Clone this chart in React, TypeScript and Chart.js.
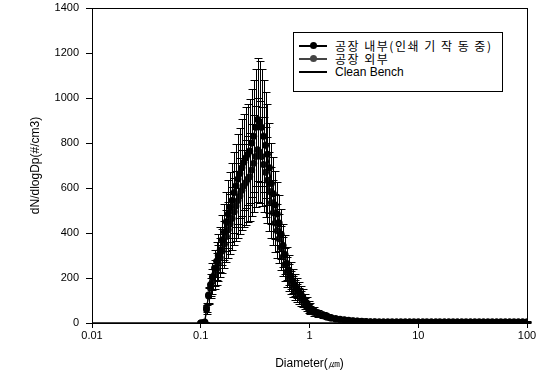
import React, { useEffect, useRef } from "react";
import { Chart, registerables } from "chart.js";

Chart.register(...registerables);

const seriesNames = ["공장 내부(인쇄 기 작 동 중)", "공장 외부", "Clean Bench"];

const diameters = [
  0.100, 0.104, 0.109, 0.113, 0.118, 0.123, 0.128, 0.134, 0.140, 0.145,
  0.151, 0.158, 0.165, 0.172, 0.179, 0.186, 0.194, 0.203, 0.211, 0.220,
  0.229, 0.239, 0.249, 0.260, 0.271, 0.282, 0.294, 0.307, 0.320, 0.333,
  0.347, 0.362, 0.378, 0.394, 0.410, 0.428, 0.446, 0.465, 0.484, 0.505,
  0.526, 0.549, 0.572, 0.596, 0.621, 0.648, 0.675, 0.704, 0.733, 0.764,
  0.797, 0.831, 0.866, 0.902, 0.940, 0.980,
  1.00, 1.10, 1.20, 1.32, 1.45, 1.58, 1.74, 1.91, 2.09, 2.29,
  2.51, 2.75, 3.02, 3.31, 3.63, 3.98, 4.37, 4.79, 5.25, 5.75,
  6.31, 6.92, 7.59, 8.32, 9.12, 10.0, 11.0, 12.0, 13.2, 14.5,
  15.8, 17.4, 19.1, 20.9, 22.9, 25.1, 27.5, 30.2, 33.1, 36.3,
  39.8, 43.7, 47.9, 52.5, 57.5, 63.1, 69.2, 75.9, 83.2, 91.2,
  100,
];

const insideValues = [
  0, 0, 2, 60, 125, 170, 205, 245, 275, 300,
  325, 370, 405, 450, 485, 515, 545, 580, 610, 640,
  665, 690, 715, 735, 750, 765, 800, 830, 870, 905,
  895, 870, 830, 790, 750, 690, 620, 575, 525, 485,
  445, 395, 345, 305, 265, 235, 210, 188, 170, 155,
  142, 130, 117, 102, 90, 78,
  70, 56, 46, 38, 31, 25, 20, 17, 14, 12,
  10, 9, 8, 7, 6, 6, 5, 5, 5, 5,
  5, 5, 5, 5, 5, 5, 5, 5, 5, 5,
  5, 5, 5, 5, 5, 5, 5, 5, 5, 5,
  5, 5, 5, 5, 5, 5, 5, 5, 5, 5,
  5,
];

const insideErrors = [
  0, 0, 1, 20, 35, 50, 60, 80, 85, 95,
  100, 110, 125, 130, 150, 155, 165, 180, 185, 200,
  200, 215, 215, 225, 225, 230, 240, 250, 260, 272,
  270, 260, 250, 235, 225, 200, 180, 165, 150, 140,
  125, 110, 95, 85, 75, 66, 60, 54, 48, 44,
  40, 36, 32, 28, 25, 22,
  20, 16, 13, 11, 9, 8, 6, 5, 4, 4,
  3, 3, 3, 2, 2, 2, 2, 2, 2, 2,
  2, 2, 2, 2, 2, 2, 2, 2, 2, 2,
  2, 2, 2, 2, 2, 2, 2, 2, 2, 2,
  2, 2, 2, 2, 2, 2, 2, 2, 2, 2,
  2,
];

const outsideValues = [
  0, 0, 4, 70, 120, 155, 185, 215, 240, 265,
  290, 320, 350, 385, 415, 440, 465, 495, 520, 545,
  565, 590, 610, 625, 640, 650, 680, 710, 740, 770,
  760, 740, 705, 670, 635, 585, 535, 490, 445, 410,
  375, 335, 295, 260, 228, 202, 180, 162, 146, 133,
  121, 110, 99, 87, 76, 66,
  58, 47, 38, 32, 26, 21, 17, 14, 12, 10,
  9, 8, 7, 6, 5, 5, 4, 4, 4, 4,
  4, 4, 4, 4, 4, 4, 4, 4, 4, 4,
  4, 4, 4, 4, 4, 4, 4, 4, 4, 4,
  4, 4, 4, 4, 4, 4, 4, 4, 4, 4,
  4,
];

const outsideErrors = [
  0, 0, 2, 20, 35, 45, 55, 65, 70, 80,
  87, 96, 105, 115, 125, 132, 140, 150, 156, 165,
  170, 178, 185, 190, 192, 196, 205, 215, 225, 232,
  228, 222, 212, 200, 190, 175, 158, 145, 130, 120,
  110, 98, 86, 75, 66, 59, 53, 48, 43, 39,
  36, 33, 30, 26, 23, 20,
  17, 14, 11, 9, 8, 6, 5, 4, 4, 3,
  3, 2, 2, 2, 2, 2, 2, 2, 2, 2,
  2, 2, 2, 2, 2, 2, 2, 2, 2, 2,
  2, 2, 2, 2, 2, 2, 2, 2, 2, 2,
  2, 2, 2, 2, 2, 2, 2, 2, 2, 2,
  2,
];

const cleanDiameters = [0.01, 0.03, 0.1, 0.3, 1, 3, 10, 30, 100];
const cleanValues = [0, 0, 0, 0, 0, 0, 0, 0, 0];

const xTicks = [0.01, 0.1, 1, 10, 100];
const yTicks = [0, 200, 400, 600, 800, 1000, 1200, 1400];

const errorBarPlugin = {
  id: "errorBars",
  afterDatasetsDraw(chart: any) {
    const ctx = chart.ctx;
    const xs = chart.scales.x;
    const ys = chart.scales.y;
    ctx.save();
    chart.data.datasets.forEach((ds: any) => {
      if (!ds.errors) return;
      ctx.strokeStyle = "#000";
      ctx.lineWidth = 1;
      ds.data.forEach((p: any, i: number) => {
        const e = ds.errors[i];
        if (!e) return;
        const x = Math.round(xs.getPixelForValue(p.x)) + 0.5;
        const y1 = Math.round(ys.getPixelForValue(p.y + e)) + 0.5;
        const y2 = Math.round(ys.getPixelForValue(Math.max(0, p.y - e))) + 0.5;
        ctx.beginPath();
        ctx.moveTo(x, y1);
        ctx.lineTo(x, y2);
        ctx.moveTo(x - 4, y1);
        ctx.lineTo(x + 4, y1);
        ctx.moveTo(x - 4, y2);
        ctx.lineTo(x + 4, y2);
        ctx.stroke();
      });
    });
    ctx.restore();
  },
};

const framePlugin = {
  id: "frame",
  afterDraw(chart: any) {
    const { left, right, top, bottom } = chart.chartArea;
    const ctx = chart.ctx;
    ctx.save();
    ctx.strokeStyle = "#000";
    ctx.lineWidth = 1;
    ctx.strokeRect(Math.round(left) + 0.5, Math.round(top) + 0.5, Math.round(right - left), Math.round(bottom - top));
    ctx.restore();
  },
};

function pts(xsArr: number[], ysArr: number[]) {
  return xsArr.map((x, i) => ({ x, y: ysArr[i] }));
}

export default function App() {
  const ref = useRef<HTMLCanvasElement | null>(null);

  useEffect(() => {
    document.body.style.margin = "0";
    const canvas = ref.current;
    if (!canvas) return;
    const chart = new Chart(canvas, {
      type: "line",
      data: {
        datasets: [
          {
            label: seriesNames[0],
            data: pts(diameters, insideValues),
            errors: insideErrors,
            borderColor: "#000",
            backgroundColor: "#000",
            borderWidth: 1.2,
            pointRadius: 3.5,
            pointBorderWidth: 0,
            tension: 0,
          } as any,
          {
            label: seriesNames[1],
            data: pts(diameters, outsideValues),
            errors: outsideErrors,
            borderColor: "#111",
            backgroundColor: "#111",
            borderWidth: 1.2,
            pointRadius: 3.5,
            pointBorderWidth: 0,
            tension: 0,
          } as any,
          {
            label: seriesNames[2],
            data: pts(cleanDiameters, cleanValues),
            borderColor: "#000",
            borderWidth: 1.5,
            pointRadius: 0,
            tension: 0,
          },
        ],
      },
      options: {
        animation: false,
        responsive: false,
        maintainAspectRatio: false,
        layout: { padding: { left: 0, right: 16, top: 8, bottom: 0 } },
        plugins: {
          legend: { display: false },
          tooltip: { enabled: false },
        },
        scales: {
          x: {
            type: "logarithmic",
            min: 0.01,
            max: 100,
            afterBuildTicks: (scale: any) => {
              scale.ticks = xTicks.map((v) => ({ value: v }));
            },
            afterFit: (scale: any) => {
              scale.height = 57;
              scale.paddingLeft = 0;
              scale.paddingRight = 0;
            },
            ticks: {
              color: "#000",
              font: { family: "Arial, 'Liberation Sans', sans-serif", size: 11 },
              padding: 1,
              maxRotation: 0,
              autoSkip: false,
              callback: (v: any) => String(v),
            },
            grid: { drawOnChartArea: false, drawTicks: true, tickLength: 5, color: "#000" },
            border: { display: true, color: "#000", width: 1 },
            title: {
              display: true,
              text: "Diameter(㎛)",
              color: "#000",
              font: { family: "Arial, 'Liberation Sans', sans-serif", size: 12 },
              padding: { top: 0, bottom: 9 },
            },
          },
          y: {
            type: "linear",
            min: 0,
            max: 1400,
            afterBuildTicks: (scale: any) => {
              scale.ticks = yTicks.map((v) => ({ value: v }));
            },
            afterFit: (scale: any) => {
              scale.width = 92;
              scale.paddingTop = 0;
              scale.paddingBottom = 0;
            },
            ticks: {
              color: "#000",
              font: { family: "Arial, 'Liberation Sans', sans-serif", size: 11 },
              padding: 7,
              callback: (v: any) => String(v),
            },
            grid: { drawOnChartArea: false, drawTicks: true, tickLength: 6, color: "#000" },
            border: { display: true, color: "#000", width: 1 },
            title: {
              display: true,
              text: "dN/dlogDp(#/cm3)",
              color: "#000",
              font: { family: "Arial, 'Liberation Sans', sans-serif", size: 12 },
              padding: { top: 28, bottom: 0 },
            },
          },
        },
      } as any,
      plugins: [errorBarPlugin, framePlugin],
    });
    return () => chart.destroy();
  }, []);

  const rowStyle: React.CSSProperties = {
    display: "flex",
    alignItems: "center",
    height: 13,
    whiteSpace: "nowrap",
  };
  const sample = (marker: boolean, color: string) => (
    <span style={{ position: "relative", display: "inline-block", width: 28, height: 9, marginRight: 8 }}>
      <span style={{ position: "absolute", left: 0, right: 0, top: 4, height: 1.5, background: color }} />
      {marker && (
        <span
          style={{ position: "absolute", left: 11, top: 1, width: 7, height: 7, borderRadius: "50%", background: color }}
        />
      )}
    </span>
  );

  return (
    <div style={{ position: "relative", width: 543, height: 380, background: "#fff" }}>
      <canvas ref={ref} width={543} height={380} style={{ display: "block" }} />
      <div
        style={{
          position: "absolute",
          left: 293,
          top: 32,
          width: 210,
          height: 60,
          border: "1px solid #000",
          background: "#fff",
          boxSizing: "border-box",
          padding: "6px 0 0 5px",
          fontFamily: "Arial, 'Liberation Sans', 'Noto Sans CJK KR', sans-serif",
          fontSize: 12,
          color: "#000",
        }}
      >
        <div style={rowStyle}>
          {sample(true, "#000")}
          <span style={{ fontFamily: "'Noto Sans CJK KR', sans-serif", fontSize: 12, letterSpacing: 1.5 }}>{seriesNames[0]}</span>
        </div>
        <div style={rowStyle}>
          {sample(true, "#444")}
          <span style={{ fontFamily: "'Noto Sans CJK KR', sans-serif", fontSize: 12, letterSpacing: 1.5 }}>{seriesNames[1]}</span>
        </div>
        <div style={rowStyle}>
          {sample(false, "#000")}
          <span>{seriesNames[2]}</span>
        </div>
      </div>
    </div>
  );
}
